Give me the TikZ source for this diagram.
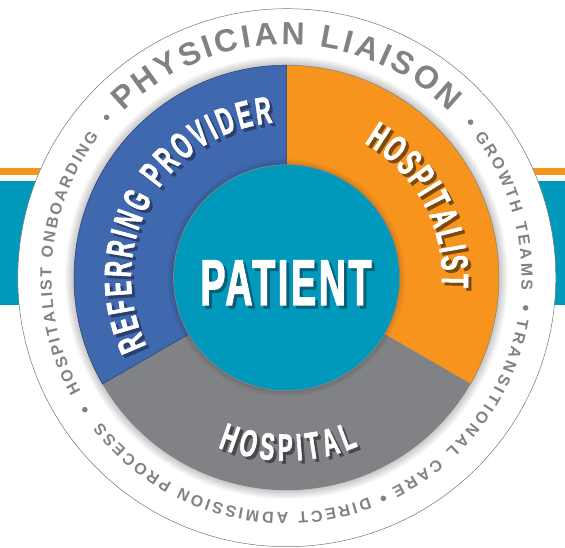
\documentclass[tikz,border=0pt]{standalone}
\usepackage{fontspec}
\usetikzlibrary{decorations.text}
\setmainfont{Liberation Sans}
\newfontfamily\condfont[FakeStretch=0.58,FakeBold=1.5]{Liberation Sans Bold}
\newfontfamily\centrefont[FakeStretch=0.58,FakeBold=1.6,LetterSpace=4]{Liberation Sans Bold}
\newfontfamily\ringfont{Liberation Sans Bold}
\definecolor{tealc}{HTML}{0099BB}
\definecolor{orangec}{HTML}{F7941E}
\definecolor{bluec}{HTML}{4068AF}
\definecolor{grayc}{HTML}{808285}
\definecolor{blueshadow}{HTML}{2B3F6E}
\definecolor{orangeshadow}{HTML}{7A4A10}
\definecolor{grayshadow}{HTML}{48494C}
\definecolor{tealshadow}{HTML}{0A5F78}
\newcommand{\arctext}[5]{% start, end, radius, format, text
  \path[decorate,decoration={text along path,text align={fit to path},text={|#4|#5}}]
    (#1:#3) arc[start angle=#1,end angle=#2,radius=#3];}
\newcommand{\bigfmt}{\condfont\fontsize{38}{38}\selectfont}
\newcommand{\ringfmt}{\color{grayc}\ringfont\fontsize{16}{16}\selectfont}
\newcommand{\topfmt}{\color{grayc}\ringfont\fontsize{32}{32}\selectfont}
\newcommand{\shadowarc}[6]{% start, end, radius, shadow colour, text, unused
  \begin{scope}[shift={(3,-3)}]\arctext{#1}{#2}{#3}{\color{#4}\bigfmt}{#5}\end{scope}
  \arctext{#1}{#2}{#3}{\color{white}\bigfmt}{#5}}
\tikzset{
  wedgeshape/.style={line width=0.5pt},
  ringdot/.style={fill=grayc},
  bandfill/.style={fill=tealc,draw=none},
  stripefill/.style={fill=orangec,draw=none},
  bigtext/.style={font=\centrefont\fontsize{65}{65}\selectfont,inner sep=0pt,anchor=base}
}
\begin{document}
\begin{tikzpicture}[x=1pt,y=1pt]
\useasboundingbox (-286.5,-270.3) rectangle (278.5,277.7);
\fill[white] (-286.5,-270.3) rectangle (278.5,277.7);
% background band
\fill[bandfill] (-286.5,96.7) rectangle (278.5,-27.3);
\fill[stripefill] (-286.5,109.7) rectangle (278.5,102.7);
% outer ring
\fill[white] (0.3,0) circle[radius=269];
\draw[grayc!90!black,line width=0.5pt] (0.3,0) circle[radius=269];
% soft shadow of wedges
\foreach \i in {1,...,9}{\fill[black,opacity=0.022] (0,0) circle[radius=212.5+\i];}
% wedges
\def\Ro{212.5}\def\Ri{113}
\fill[grayc] (210:\Ri) -- (210:\Ro) arc[start angle=210,end angle=330,radius=\Ro] -- (330:\Ri) arc[start angle=330,end angle=210,radius=\Ri] -- cycle;
\filldraw[fill=orangec,draw=grayc,wedgeshape] (90:\Ri) -- (90:\Ro) arc[start angle=90,end angle=-30,radius=\Ro] -- (-30:\Ri) arc[start angle=-30,end angle=90,radius=\Ri] -- cycle;
\filldraw[fill=bluec,draw=blueshadow,wedgeshape] (90:\Ri) -- (90:\Ro) arc[start angle=90,end angle=210,radius=\Ro] -- (210:\Ri) arc[start angle=210,end angle=90,radius=\Ri] -- cycle;
% soft shadow of centre
\foreach \i in {1,...,6}{\fill[black,opacity=0.02] (0,0) circle[radius=113+\i];}
\filldraw[fill=tealc,draw=grayc,line width=0.8pt] (0,0) circle[radius=113];
% centre text
\node[bigtext,text=tealshadow] (patientshadow) at (2.5,-30.3) {PATIENT};
\node[bigtext,text=white] (patient) at (-0.5,-27.3) {PATIENT};
% wedge labels
\shadowarc{206}{95}{155.5}{blueshadow}{REFERRING PROVIDER}{}
\shadowarc{60}{-3.5}{155.5}{orangeshadow}{HOSPITALIST}{}
\shadowarc{248}{293}{183}{grayshadow}{HOSPITAL}{}
% ring text
\arctext{134.5}{45.5}{233}{\topfmt}{PHYSICIAN LIAISON}
\arctext{37}{-3}{235}{\ringfmt}{GROWTH TEAMS}
\arctext{-10}{-63.5}{235}{\ringfmt}{TRANSITIONAL CARE}
\arctext{-69.5}{-142}{235}{\ringfmt}{DIRECT ADMISSION PROCESS}
\arctext{209}{143}{235}{\ringfmt}{HOSPITALIST ONBOARDING}
% separators
\foreach \a in {40.2,-7.2,-66.3,213.2,138.3}{\fill[ringdot] (\a:241) circle[radius=2.8];}
\end{tikzpicture}
\end{document}
